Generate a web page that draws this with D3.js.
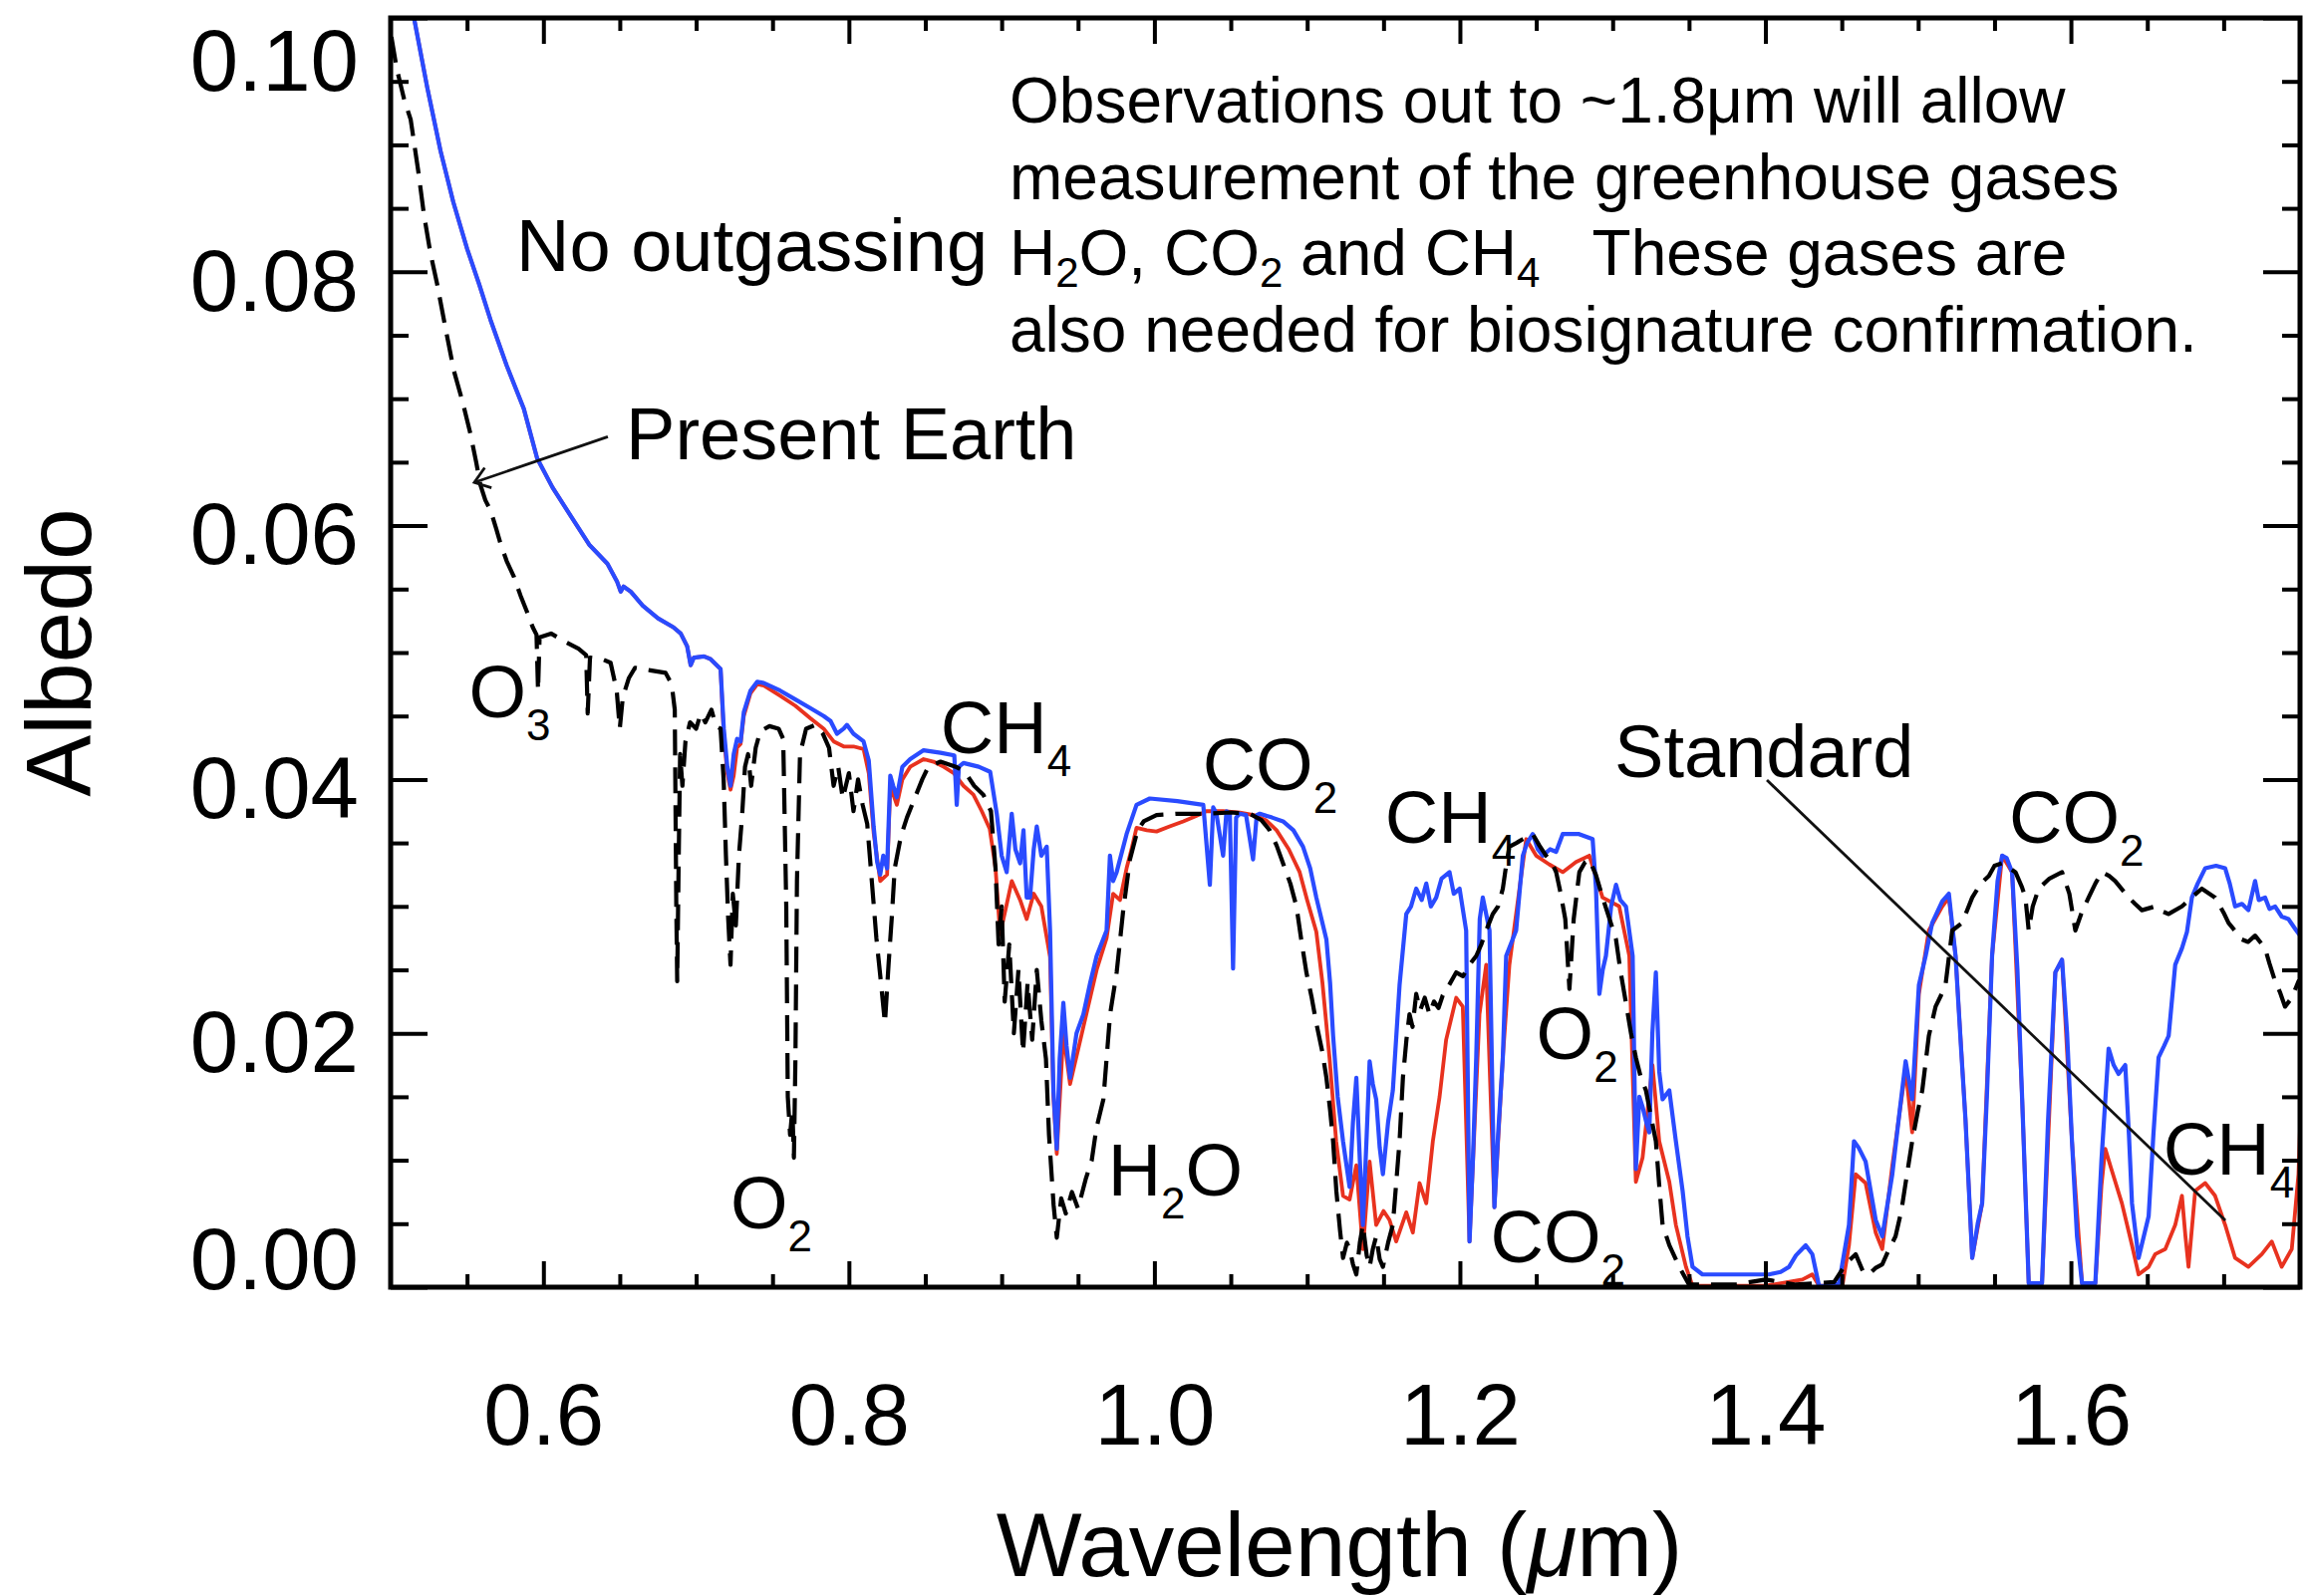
<!DOCTYPE html>
<html>
<head>
<meta charset="utf-8">
<script src="https://cdn.jsdelivr.net/npm/d3@7"></script>
<style>
  html, body { margin: 0; padding: 0; background: #fff; }
  svg { display: block; }
  text { font-family: "Liberation Sans", Arial, Helvetica, sans-serif; fill: #000; }
</style>
</head>
<body>
<svg id="chart" width="2315" height="1602"></svg>
<script>
// ---- Axis ticks ----
const xMajorTicks = [0.6, 0.8, 1.0, 1.2, 1.4, 1.6];
const xTickLabels = ["0.6", "0.8", "1.0", "1.2", "1.4", "1.6"];
const yMajorTicks = [0.00, 0.02, 0.04, 0.06, 0.08, 0.10];
const yTickLabels = ["0.00", "0.02", "0.04", "0.06", "0.08", "0.10"];

// ---- Present Earth albedo spectrum (wavelength µm, albedo) ----
const presentEarth = [
  [0.5005,0.0985],[0.5040,0.0960],[0.5090,0.0935],[0.5131,0.0920],[0.5180,0.0880],[0.5218,0.0845],
  [0.5260,0.0815],[0.5305,0.0790],[0.5360,0.0755],[0.5414,0.0722],[0.5470,0.0698],[0.5523,0.0672],
  [0.5560,0.0650],[0.5588,0.0632],[0.5620,0.0620],[0.5654,0.0612],[0.5690,0.0598],[0.5719,0.0586],
  [0.5760,0.0572],[0.5806,0.0560],[0.5850,0.0545],[0.5893,0.0532],[0.5930,0.0520],[0.5955,0.0514],
  [0.5965,0.0470],[0.5975,0.0512],[0.6050,0.0515],[0.6150,0.0508],[0.6230,0.0503],[0.6280,0.0498],
  [0.6290,0.0452],[0.6305,0.0496],[0.6380,0.0495],[0.6440,0.0492],[0.6480,0.0470],[0.6500,0.0440],
  [0.6520,0.0465],[0.6560,0.0480],[0.6600,0.0488],[0.6700,0.0486],[0.6800,0.0484],[0.6840,0.0475],
  [0.6860,0.0455],[0.6870,0.0300],[0.6876,0.0241],[0.6885,0.0330],[0.6895,0.0420],[0.6910,0.0395],
  [0.6930,0.0430],[0.6960,0.0445],[0.7000,0.0440],[0.7030,0.0452],[0.7060,0.0445],[0.7100,0.0455],
  [0.7130,0.0442],[0.7160,0.0440],[0.7180,0.0400],[0.7195,0.0340],[0.7210,0.0290],[0.7225,0.0254],
  [0.7240,0.0310],[0.7260,0.0285],[0.7280,0.0340],[0.7300,0.0370],[0.7320,0.0410],[0.7340,0.0420],
  [0.7360,0.0395],[0.7390,0.0425],[0.7420,0.0438],[0.7480,0.0442],[0.7540,0.0440],[0.7570,0.0432],
  [0.7590,0.0300],[0.7600,0.0150],[0.7615,0.0120],[0.7630,0.0140],[0.7640,0.0102],[0.7650,0.0180],
  [0.7660,0.0320],[0.7680,0.0420],[0.7720,0.0440],[0.7780,0.0443],[0.7830,0.0436],[0.7870,0.0425],
  [0.7900,0.0395],[0.7930,0.0410],[0.7960,0.0385],[0.8000,0.0405],[0.8030,0.0375],[0.8060,0.0400],
  [0.8090,0.0380],[0.8120,0.0365],[0.8150,0.0320],[0.8180,0.0275],[0.8210,0.0240],[0.8236,0.0208],
  [0.8260,0.0255],[0.8280,0.0290],[0.8300,0.0330],[0.8340,0.0355],[0.8380,0.0370],[0.8430,0.0385],
  [0.8480,0.0400],[0.8520,0.0410],[0.8600,0.0414],[0.8700,0.0410],[0.8760,0.0406],[0.8820,0.0395],
  [0.8880,0.0388],[0.8930,0.0375],[0.8960,0.0330],[0.8980,0.0270],[0.9000,0.0300],[0.9020,0.0225],
  [0.9050,0.0270],[0.9080,0.0200],[0.9110,0.0250],[0.9140,0.0185],[0.9170,0.0240],[0.9200,0.0195],
  [0.9230,0.0250],[0.9260,0.0210],[0.9290,0.0180],[0.9310,0.0120],[0.9340,0.0065],[0.9361,0.0039],
  [0.9390,0.0070],[0.9420,0.0058],[0.9460,0.0075],[0.9500,0.0062],[0.9550,0.0085],[0.9590,0.0100],
  [0.9620,0.0125],[0.9666,0.0148],[0.9710,0.0215],[0.9753,0.0248],[0.9796,0.0297],[0.9840,0.0337],
  [0.9890,0.0360],[0.9930,0.0367],[1.0014,0.0372],[1.0145,0.0373],[1.0320,0.0373],[1.0500,0.0374],
  [1.0624,0.0373],[1.0700,0.0368],[1.0755,0.0360],[1.0800,0.0348],[1.0842,0.0334],[1.0890,0.0318],
  [1.0930,0.0300],[1.0960,0.0275],[1.0995,0.0248],[1.1030,0.0228],[1.1060,0.0208],[1.1100,0.0185],
  [1.1126,0.0165],[1.1150,0.0140],[1.1170,0.0115],[1.1191,0.0076],[1.1215,0.0045],[1.1235,0.0023],
  [1.1260,0.0035],[1.1278,0.0030],[1.1300,0.0018],[1.1322,0.0010],[1.1345,0.0035],[1.1365,0.0049],
  [1.1390,0.0025],[1.1409,0.0016],[1.1430,0.0030],[1.1452,0.0040],[1.1475,0.0022],[1.1496,0.0016],
  [1.1530,0.0035],[1.1561,0.0049],[1.1585,0.0085],[1.1605,0.0115],[1.1627,0.0165],[1.1650,0.0195],
  [1.1670,0.0215],[1.1690,0.0205],[1.1714,0.0231],[1.1740,0.0218],[1.1770,0.0228],[1.1801,0.0215],
  [1.1830,0.0225],[1.1860,0.0220],[1.1888,0.0230],[1.1920,0.0236],[1.1976,0.0248],[1.2020,0.0245],
  [1.2063,0.0254],[1.2107,0.0261],[1.2140,0.0270],[1.2172,0.0281],[1.2215,0.0294],[1.2250,0.0300],
  [1.2281,0.0314],[1.2300,0.0330],[1.2324,0.0347],[1.2370,0.0350],[1.2412,0.0353],[1.2477,0.0357],
  [1.2520,0.0348],[1.2564,0.0340],[1.2600,0.0335],[1.2630,0.0327],[1.2660,0.0310],[1.2690,0.0290],
  [1.2717,0.0235],[1.2745,0.0290],[1.2782,0.0327],[1.2820,0.0335],[1.2847,0.0337],[1.2890,0.0325],
  [1.2934,0.0307],[1.2980,0.0290],[1.3022,0.0274],[1.3050,0.0250],[1.3087,0.0224],[1.3120,0.0200],
  [1.3152,0.0181],[1.3185,0.0165],[1.3218,0.0155],[1.3250,0.0135],[1.3283,0.0115],[1.3305,0.0080],
  [1.3327,0.0049],[1.3371,0.0033],[1.3436,0.0016],[1.3500,0.0002],[1.3800,0.0002],[1.4002,0.0006],
  [1.4200,0.0002],[1.4450,0.0004],[1.4525,0.0018],[1.4591,0.0026],[1.4640,0.0012],[1.4678,0.0010],
  [1.4720,0.0015],[1.4765,0.0018],[1.4810,0.0030],[1.4852,0.0040],[1.4890,0.0060],[1.4918,0.0082],
  [1.4961,0.0115],[1.5000,0.0140],[1.5027,0.0155],[1.5070,0.0198],[1.5114,0.0221],[1.5150,0.0230],
  [1.5179,0.0238],[1.5223,0.0281],[1.5288,0.0287],[1.5354,0.0307],[1.5410,0.0318],[1.5463,0.0324],
  [1.5500,0.0332],[1.5550,0.0334],[1.5600,0.0330],[1.5637,0.0327],[1.5680,0.0315],[1.5702,0.0307],
  [1.5724,0.0281],[1.5750,0.0300],[1.5789,0.0314],[1.5860,0.0322],[1.5942,0.0327],[1.5990,0.0310],
  [1.6029,0.0281],[1.6070,0.0295],[1.6116,0.0307],[1.6160,0.0318],[1.6203,0.0327],[1.6250,0.0324],
  [1.6290,0.0320],[1.6378,0.0307],[1.6420,0.0302],[1.6465,0.0297],[1.6552,0.0300],[1.6600,0.0296],
  [1.6640,0.0294],[1.6727,0.0300],[1.6800,0.0308],[1.6857,0.0314],[1.6944,0.0307],[1.7000,0.0295],
  [1.7032,0.0287],[1.7080,0.0280],[1.7119,0.0274],[1.7160,0.0272],[1.7206,0.0277],[1.7271,0.0267],
  [1.7300,0.0255],[1.7337,0.0241],[1.7370,0.0232],[1.7402,0.0221],[1.7446,0.0228],[1.7490,0.0241],
  [1.7500,0.0240]
];

// ---- No-outgassing case ----
const noOutgassing = [
  [0.5120,0.1015],[0.5153,0.1000],[0.5240,0.0945],[0.5327,0.0895],[0.5410,0.0855],[0.5501,0.0818],
  [0.5580,0.0790],[0.5654,0.0762],[0.5760,0.0726],[0.5872,0.0692],[0.5959,0.0653],[0.6060,0.0630],
  [0.6177,0.0608],[0.6300,0.0585],[0.6419,0.0570],[0.6482,0.0556],[0.6506,0.0548],[0.6525,0.0552],
  [0.6572,0.0548],[0.6650,0.0537],[0.6750,0.0527],[0.6850,0.0520],[0.6899,0.0515],[0.6941,0.0505],
  [0.6964,0.0490],[0.6985,0.0496],[0.7051,0.0497],[0.7092,0.0495],[0.7160,0.0487],[0.7181,0.0440],
  [0.7204,0.0410],[0.7225,0.0395],[0.7246,0.0420],[0.7268,0.0432],[0.7291,0.0430],[0.7312,0.0453],
  [0.7356,0.0470],[0.7400,0.0477],[0.7443,0.0476],[0.7550,0.0470],[0.7650,0.0463],[0.7750,0.0456],
  [0.7835,0.0450],[0.7880,0.0446],[0.7922,0.0436],[0.7966,0.0440],[0.7987,0.0443],[0.8030,0.0436],
  [0.8096,0.0430],[0.8130,0.0415],[0.8162,0.0363],[0.8185,0.0335],[0.8205,0.0325],[0.8225,0.0340],
  [0.8250,0.0330],[0.8271,0.0403],[0.8290,0.0395],[0.8314,0.0386],[0.8350,0.0410],[0.8401,0.0416],
  [0.8489,0.0423],[0.8600,0.0421],[0.8690,0.0419],[0.8706,0.0380],[0.8720,0.0410],[0.8750,0.0413],
  [0.8850,0.0410],[0.8925,0.0406],[0.8968,0.0373],[0.9000,0.0340],[0.9033,0.0327],[0.9066,0.0373],
  [0.9090,0.0345],[0.9121,0.0334],[0.9143,0.0360],[0.9164,0.0307],[0.9186,0.0307],[0.9210,0.0345],
  [0.9230,0.0363],[0.9260,0.0340],[0.9295,0.0347],[0.9317,0.0281],[0.9339,0.0155],[0.9361,0.0109],
  [0.9380,0.0180],[0.9404,0.0224],[0.9425,0.0190],[0.9448,0.0165],[0.9490,0.0200],[0.9535,0.0215],
  [0.9580,0.0240],[0.9622,0.0261],[0.9687,0.0281],[0.9709,0.0340],[0.9730,0.0320],[0.9753,0.0327],
  [0.9818,0.0357],[0.9883,0.0380],[0.9970,0.0385],[1.0150,0.0383],[1.0320,0.0380],[1.0363,0.0317],
  [1.0385,0.0378],[1.0406,0.0373],[1.0450,0.0340],[1.0472,0.0375],[1.0494,0.0373],[1.0515,0.0251],
  [1.0535,0.0370],[1.0559,0.0373],[1.0600,0.0372],[1.0646,0.0337],[1.0670,0.0372],[1.0690,0.0373],
  [1.0770,0.0370],[1.0842,0.0367],[1.0910,0.0360],[1.0973,0.0347],[1.1020,0.0330],[1.1060,0.0307],
  [1.1126,0.0274],[1.1150,0.0240],[1.1170,0.0198],[1.1200,0.0150],[1.1235,0.0115],[1.1278,0.0079],
  [1.1300,0.0130],[1.1322,0.0165],[1.1345,0.0100],[1.1365,0.0049],[1.1390,0.0120],[1.1409,0.0178],
  [1.1430,0.0160],[1.1452,0.0148],[1.1475,0.0110],[1.1496,0.0089],[1.1530,0.0130],[1.1561,0.0155],
  [1.1605,0.0238],[1.1649,0.0294],[1.1680,0.0300],[1.1714,0.0314],[1.1750,0.0305],[1.1780,0.0318],
  [1.1810,0.0300],[1.1845,0.0307],[1.1880,0.0322],[1.1932,0.0327],[1.1960,0.0310],[1.1998,0.0314],
  [1.2041,0.0281],[1.2063,0.0036],[1.2085,0.0100],[1.2107,0.0181],[1.2130,0.0290],[1.2150,0.0307],
  [1.2194,0.0281],[1.2226,0.0063],[1.2250,0.0120],[1.2281,0.0181],[1.2303,0.0261],[1.2368,0.0281],
  [1.2412,0.0340],[1.2440,0.0350],[1.2477,0.0357],[1.2510,0.0345],[1.2542,0.0340],[1.2590,0.0345],
  [1.2630,0.0343],[1.2673,0.0357],[1.2780,0.0357],[1.2869,0.0353],[1.2891,0.0314],[1.2913,0.0231],
  [1.2935,0.0250],[1.2956,0.0261],[1.2990,0.0300],[1.3022,0.0317],[1.3050,0.0305],[1.3087,0.0300],
  [1.3131,0.0261],[1.3152,0.0093],[1.3175,0.0150],[1.3196,0.0142],[1.3220,0.0130],[1.3240,0.0122],
  [1.3260,0.0200],[1.3283,0.0248],[1.3305,0.0170],[1.3327,0.0148],[1.3371,0.0155],[1.3414,0.0115],
  [1.3458,0.0076],[1.3490,0.0040],[1.3523,0.0016],[1.3588,0.0010],[1.3800,0.0010],[1.4024,0.0010],
  [1.4100,0.0012],[1.4155,0.0016],[1.4200,0.0025],[1.4240,0.0030],[1.4264,0.0033],[1.4307,0.0026],
  [1.4351,0.0001],[1.4420,0.0001],[1.4482,0.0003],[1.4547,0.0049],[1.4580,0.0115],[1.4610,0.0110],
  [1.4656,0.0099],[1.4722,0.0053],[1.4765,0.0040],[1.4831,0.0089],[1.4880,0.0140],[1.4918,0.0178],
  [1.4961,0.0148],[1.5005,0.0238],[1.5049,0.0261],[1.5092,0.0287],[1.5158,0.0304],[1.5201,0.0310],
  [1.5245,0.0261],[1.5280,0.0190],[1.5310,0.0132],[1.5354,0.0023],[1.5390,0.0050],[1.5419,0.0066],
  [1.5450,0.0150],[1.5484,0.0261],[1.5520,0.0320],[1.5550,0.0340],[1.5580,0.0338],[1.5615,0.0327],
  [1.5650,0.0250],[1.5681,0.0148],[1.5724,0.0003],[1.5811,0.0003],[1.5850,0.0130],[1.5898,0.0248],
  [1.5942,0.0258],[1.5975,0.0200],[1.6007,0.0115],[1.6040,0.0040],[1.6073,0.0003],[1.6160,0.0003],
  [1.6200,0.0100],[1.6247,0.0188],[1.6280,0.0175],[1.6312,0.0168],[1.6356,0.0175],[1.6380,0.0120],
  [1.6400,0.0066],[1.6443,0.0023],[1.6509,0.0056],[1.6540,0.0120],[1.6574,0.0181],[1.6610,0.0190],
  [1.6640,0.0198],[1.6683,0.0254],[1.6727,0.0267],[1.6760,0.0280],[1.6792,0.0307],[1.6830,0.0318],
  [1.6879,0.0330],[1.6950,0.0332],[1.7010,0.0330],[1.7040,0.0318],[1.7075,0.0300],[1.7120,0.0302],
  [1.7162,0.0297],[1.7206,0.0320],[1.7230,0.0305],[1.7271,0.0307],[1.7300,0.0298],[1.7337,0.0300],
  [1.7380,0.0292],[1.7424,0.0290],[1.7470,0.0282],[1.7500,0.0277]
];

// ---- Standard case ----
const standard = [
  [0.5120,0.1015],[0.5153,0.1000],[0.5240,0.0945],[0.5327,0.0895],[0.5410,0.0855],[0.5501,0.0818],
  [0.5580,0.0790],[0.5654,0.0762],[0.5760,0.0726],[0.5872,0.0692],[0.5959,0.0653],[0.6060,0.0630],
  [0.6177,0.0608],[0.6300,0.0585],[0.6419,0.0570],[0.6482,0.0556],[0.6506,0.0548],[0.6525,0.0552],
  [0.6572,0.0548],[0.6650,0.0537],[0.6750,0.0527],[0.6850,0.0520],[0.6899,0.0515],[0.6941,0.0505],
  [0.6964,0.0490],[0.6985,0.0496],[0.7051,0.0497],[0.7092,0.0495],[0.7160,0.0487],[0.7181,0.0435],
  [0.7204,0.0405],[0.7225,0.0392],[0.7246,0.0403],[0.7268,0.0425],[0.7291,0.0428],[0.7312,0.0450],
  [0.7356,0.0468],[0.7400,0.0475],[0.7443,0.0474],[0.7550,0.0466],[0.7650,0.0458],[0.7750,0.0448],
  [0.7835,0.0440],[0.7900,0.0430],[0.7966,0.0426],[0.8030,0.0426],[0.8096,0.0424],[0.8130,0.0405],
  [0.8162,0.0358],[0.8205,0.0320],[0.8250,0.0325],[0.8271,0.0395],[0.8314,0.0380],[0.8350,0.0400],
  [0.8401,0.0410],[0.8489,0.0416],[0.8554,0.0414],[0.8620,0.0410],[0.8687,0.0405],[0.8750,0.0395],
  [0.8815,0.0388],[0.8870,0.0375],[0.8922,0.0361],[0.8960,0.0330],[0.8990,0.0278],[0.9030,0.0300],
  [0.9066,0.0320],[0.9121,0.0305],[0.9164,0.0290],[0.9210,0.0310],[0.9260,0.0300],[0.9317,0.0260],
  [0.9339,0.0150],[0.9361,0.0105],[0.9404,0.0200],[0.9448,0.0160],[0.9535,0.0205],[0.9622,0.0250],
  [0.9687,0.0275],[0.9730,0.0310],[0.9775,0.0305],[0.9818,0.0330],[0.9850,0.0345],[0.9883,0.0362],
  [0.9950,0.0360],[1.0014,0.0359],[1.0100,0.0363],[1.0189,0.0367],[1.0270,0.0371],[1.0340,0.0375],
  [1.0450,0.0375],[1.0560,0.0374],[1.0650,0.0372],[1.0730,0.0368],[1.0800,0.0360],[1.0880,0.0345],
  [1.0951,0.0327],[1.1000,0.0305],[1.1060,0.0280],[1.1100,0.0240],[1.1147,0.0180],[1.1190,0.0115],
  [1.1235,0.0072],[1.1278,0.0069],[1.1322,0.0096],[1.1365,0.0030],[1.1409,0.0099],[1.1452,0.0049],
  [1.1500,0.0060],[1.1539,0.0053],[1.1583,0.0036],[1.1649,0.0059],[1.1692,0.0043],[1.1736,0.0082],
  [1.1780,0.0066],[1.1823,0.0115],[1.1867,0.0150],[1.1910,0.0195],[1.1976,0.0228],[1.2019,0.0221],
  [1.2063,0.0036],[1.2128,0.0215],[1.2172,0.0254],[1.2226,0.0063],[1.2281,0.0181],[1.2324,0.0254],
  [1.2390,0.0314],[1.2434,0.0353],[1.2499,0.0340],[1.2586,0.0333],[1.2673,0.0327],[1.2760,0.0335],
  [1.2847,0.0340],[1.2934,0.0307],[1.3043,0.0300],[1.3109,0.0261],[1.3152,0.0083],[1.3196,0.0102],
  [1.3261,0.0175],[1.3305,0.0115],[1.3371,0.0083],[1.3414,0.0049],[1.3480,0.0016],[1.3523,0.0001],
  [1.4000,0.0001],[1.4242,0.0006],[1.4307,0.0010],[1.4351,0.0001],[1.4504,0.0001],[1.4547,0.0033],
  [1.4591,0.0089],[1.4656,0.0082],[1.4722,0.0043],[1.4765,0.0030],[1.4831,0.0096],[1.4918,0.0172],
  [1.4961,0.0122],[1.5005,0.0231],[1.5070,0.0281],[1.5158,0.0300],[1.5201,0.0307],[1.5245,0.0261],
  [1.5310,0.0132],[1.5354,0.0023],[1.5419,0.0066],[1.5484,0.0261],[1.5550,0.0340],[1.5615,0.0327],
  [1.5681,0.0148],[1.5724,0.0003],[1.5811,0.0003],[1.5898,0.0248],[1.5942,0.0258],[1.6007,0.0115],
  [1.6073,0.0003],[1.6160,0.0003],[1.6200,0.0080],[1.6225,0.0109],[1.6260,0.0095],[1.6334,0.0066],
  [1.6400,0.0033],[1.6443,0.0010],[1.6509,0.0016],[1.6552,0.0026],[1.6618,0.0030],[1.6683,0.0049],
  [1.6727,0.0072],[1.6750,0.0040],[1.6770,0.0016],[1.6814,0.0076],[1.6879,0.0082],[1.6944,0.0072],
  [1.7010,0.0049],[1.7075,0.0023],[1.7162,0.0016],[1.7250,0.0026],[1.7315,0.0036],[1.7380,0.0016],
  [1.7446,0.0030],[1.7490,0.0089],[1.7500,0.0125]
];

// ---- Molecule / case labels: main text, subscript, trailing text, anchor (µm, albedo) ----
const featureLabels = [
  { main: "No outgassing", sub: "", tail: "", at: [0.5822, 0.0801] },
  { main: "Present Earth", sub: "", tail: "", at: [0.6540, 0.0652] },
  { main: "O", sub: "3", tail: "", at: [0.5512, 0.0449] },
  { main: "O", sub: "2", tail: "", at: [0.7225, 0.0046] },
  { main: "CH", sub: "4", tail: "", at: [0.8600, 0.0421] },
  { main: "H", sub: "2", tail: "O", at: [0.9695, 0.0072] },
  { main: "CO", sub: "2", tail: "", at: [1.0315, 0.0392] },
  { main: "CH", sub: "4", tail: "", at: [1.1510, 0.0350] },
  { main: "O", sub: "2", tail: "", at: [1.2500, 0.0180] },
  { main: "CO", sub: "2", tail: "", at: [1.2200, 0.0020] },
  { main: "Standard", sub: "", tail: "", at: [1.3012, 0.0402] },
  { main: "CO", sub: "2", tail: "", at: [1.5595, 0.0350] },
  { main: "CH", sub: "4", tail: "", at: [1.6605, 0.0089] }
];

// Leader lines (µm, albedo) from label to curve
const presentEarthLeader = [[0.6422, 0.0670], [0.5548, 0.0634]];
const standardLeader = [[1.4010, 0.03995], [1.7011, 0.00526]];

// ---- Layout ----
const svg = d3.select("#chart");
const plot = { left: 392, right: 2308, top: 18, bottom: 1292 };
const x = d3.scaleLinear().domain([0.5, 1.75]).range([plot.left, plot.right]);
const y = d3.scaleLinear().domain([0, 0.10]).range([plot.bottom, plot.top]);

svg.append("rect").attr("width", 2315).attr("height", 1602).attr("fill", "#fff");

svg.append("defs").append("clipPath").attr("id", "plotClip")
  .append("rect")
  .attr("x", plot.left).attr("y", plot.top)
  .attr("width", plot.right - plot.left).attr("height", plot.bottom - plot.top);

// ---- Spectra ----
const line = d3.line().x(d => x(d[0])).y(d => y(d[1]));
const curves = svg.append("g").attr("clip-path", "url(#plotClip)")
  .attr("fill", "none").attr("stroke-linejoin", "round");

curves.append("path").datum(standard).attr("d", line)
  .attr("stroke", "#e8321f").attr("stroke-width", 3.8);
curves.append("path").datum(noOutgassing).attr("d", line)
  .attr("stroke", "#2a4bff").attr("stroke-width", 4.2);
curves.append("path").datum(presentEarth).attr("d", line)
  .attr("stroke", "#000").attr("stroke-width", 4.2)
  .attr("stroke-dasharray", "26,12");

// ---- Axes (ticks point inward on all four sides) ----
const xMinor = d3.range(0.55, 1.75, 0.05).filter(v => !xMajorTicks.some(t => Math.abs(t - v) < 1e-6));
const yMinor = d3.range(0.005, 0.1, 0.005).filter(v => !yMajorTicks.some(t => Math.abs(t - v) < 1e-6));

function styleAxis(g) {
  g.select(".domain").remove();
  g.selectAll(".tick line").attr("stroke", "#000").attr("stroke-width", 4);
}

svg.append("g").attr("transform", `translate(0,${plot.bottom})`)
  .call(d3.axisBottom(x).tickValues(xMajorTicks).tickSize(-26).tickPadding(96)
    .tickFormat((d, i) => xTickLabels[i]))
  .call(styleAxis)
  .call(g => g.selectAll(".tick text").attr("font-size", 87)
    .attr("font-family", "Liberation Sans, Arial, sans-serif").attr("fill", "#000"));
svg.append("g").attr("transform", `translate(0,${plot.bottom})`)
  .call(d3.axisBottom(x).tickValues(xMinor).tickSize(-13).tickFormat(""))
  .call(styleAxis);

svg.append("g").attr("transform", `translate(0,${plot.top})`)
  .call(d3.axisTop(x).tickValues(xMajorTicks).tickSize(-26).tickFormat(""))
  .call(styleAxis);
svg.append("g").attr("transform", `translate(0,${plot.top})`)
  .call(d3.axisTop(x).tickValues(xMinor).tickSize(-13).tickFormat(""))
  .call(styleAxis);

svg.append("g").attr("transform", `translate(${plot.left},0)`)
  .call(d3.axisLeft(y).tickValues(yMajorTicks).tickSize(-37).tickPadding(32)
    .tickFormat((d, i) => yTickLabels[i]))
  .call(styleAxis)
  .call(g => g.selectAll(".tick text").attr("font-size", 87)
    .attr("font-family", "Liberation Sans, Arial, sans-serif").attr("fill", "#000")
    .attr("dy", d => d >= 0.099 ? "0.83em" : (d <= 0.001 ? "0.02em" : "0.44em")));
svg.append("g").attr("transform", `translate(${plot.left},0)`)
  .call(d3.axisLeft(y).tickValues(yMinor).tickSize(-18).tickFormat(""))
  .call(styleAxis);

svg.append("g").attr("transform", `translate(${plot.right},0)`)
  .call(d3.axisRight(y).tickValues(yMajorTicks).tickSize(-37).tickFormat(""))
  .call(styleAxis);
svg.append("g").attr("transform", `translate(${plot.right},0)`)
  .call(d3.axisRight(y).tickValues(yMinor).tickSize(-18).tickFormat(""))
  .call(styleAxis);

// Plot frame
svg.append("rect")
  .attr("x", plot.left).attr("y", plot.top)
  .attr("width", plot.right - plot.left).attr("height", plot.bottom - plot.top)
  .attr("fill", "none").attr("stroke", "#000").attr("stroke-width", 5);

// Axis titles
svg.append("text")
  .attr("x", (plot.left + plot.right) / 2 - 6).attr("y", 1582)
  .attr("text-anchor", "middle").attr("font-size", 91)
  .call(t => {
    t.append("tspan").text("Wavelength (");
    t.append("tspan").attr("font-style", "italic").text("μ");
    t.append("tspan").text("m)");
  });

svg.append("text")
  .attr("transform", `translate(91,${(plot.top + plot.bottom) / 2}) rotate(-90)`)
  .attr("text-anchor", "middle").attr("font-size", 93)
  .text("Albedo");

// ---- Feature labels ----
const labelG = svg.append("g").attr("fill", "#111");
featureLabels.forEach(lb => {
  const t = labelG.append("text")
    .attr("x", x(lb.at[0])).attr("y", y(lb.at[1]))
    .attr("font-size", 74);
  t.append("tspan").text(lb.main);
  if (lb.sub) {
    t.append("tspan").attr("font-size", 44).attr("dy", 23).text(lb.sub);
  }
  if (lb.tail) {
    t.append("tspan").attr("dy", -23).text(lb.tail);
  }
});

// Leader lines
const leaderLine = d3.line().x(d => x(d[0])).y(d => y(d[1]));
svg.append("path").datum(presentEarthLeader).attr("d", leaderLine)
  .attr("stroke", "#111").attr("stroke-width", 2.8).attr("fill", "none");
svg.append("path").datum(standardLeader).attr("d", leaderLine)
  .attr("stroke", "#111").attr("stroke-width", 2.8).attr("fill", "none");

// Open arrow head at the end of the Present Earth leader
{
  const [a, b] = presentEarthLeader;
  const x1 = x(a[0]), y1 = y(a[1]), x2 = x(b[0]), y2 = y(b[1]);
  const ang = Math.atan2(y1 - y2, x1 - x2);
  const len = 18, spread = Math.PI / 5;
  const p1 = [x2 + len * Math.cos(ang - spread), y2 + len * Math.sin(ang - spread)];
  const p2 = [x2 + len * Math.cos(ang + spread), y2 + len * Math.sin(ang + spread)];
  svg.append("path")
    .attr("d", `M${p1[0]},${p1[1]}L${x2},${y2}L${p2[0]},${p2[1]}`)
    .attr("stroke", "#111").attr("stroke-width", 2.8).attr("fill", "none");
}

// ---- Explanatory note ----
const note = svg.append("g").attr("font-size", 64).attr("fill", "#000");
note.append("text").attr("x", 1013).attr("y", 123)
  .text("Observations out to ~1.8μm will allow");
note.append("text").attr("x", 1013).attr("y", 200)
  .text("measurement of the greenhouse gases");
note.append("text").attr("x", 1013).attr("y", 276)
  .attr("xml:space", "preserve").style("white-space", "pre")
  .call(t => {
    t.append("tspan").text("H");
    t.append("tspan").attr("font-size", 42).attr("dy", 12).text("2");
    t.append("tspan").attr("dy", -12).text("O, CO");
    t.append("tspan").attr("font-size", 42).attr("dy", 12).text("2");
    t.append("tspan").attr("dy", -12).text(" and CH");
    t.append("tspan").attr("font-size", 42).attr("dy", 12).text("4");
    t.append("tspan").attr("dy", -12).text("   These gases are");
  });
note.append("text").attr("x", 1013).attr("y", 353)
  .text("also needed for biosignature confirmation.");
</script>
</body>
</html>
